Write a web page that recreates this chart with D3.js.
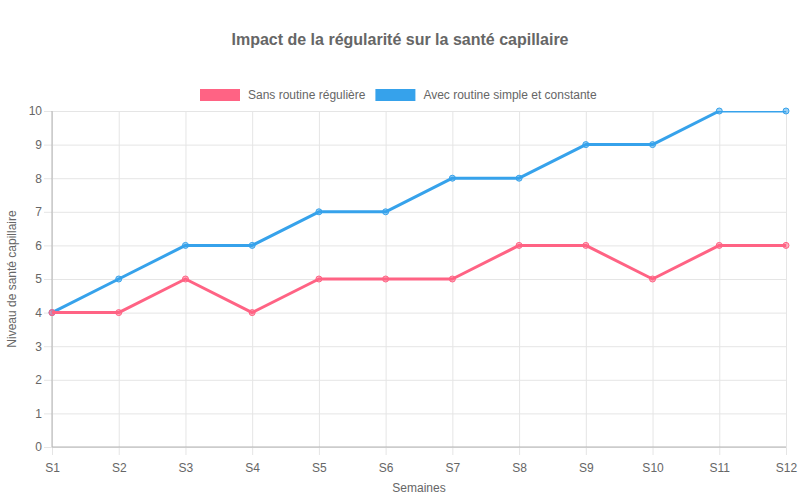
<!DOCTYPE html>
<html>
<head>
<meta charset="utf-8">
<script src="https://cdn.jsdelivr.net/npm/d3@7"></script>
<style>
  body { margin: 0; background: #fff; }
  svg text { font-family: "Liberation Sans", Arial, Helvetica, sans-serif; fill: #666; }
</style>
</head>
<body>
<svg class="chart" width="800" height="500"></svg>
<script>
var weeks = ["S1", "S2", "S3", "S4", "S5", "S6", "S7", "S8", "S9", "S10", "S11", "S12"];
var sansRoutine = [4, 4, 5, 4, 5, 5, 5, 6, 6, 5, 6, 6];
var avecRoutine = [4, 5, 6, 6, 7, 7, 8, 8, 9, 9, 10, 10];
var yTicks = [0, 1, 2, 3, 4, 5, 6, 7, 8, 9, 10];

var series = [
  {name: "Sans routine régulière", values: sansRoutine, color: "#ff6384", fill: "rgba(255,99,132,0.5)"},
  {name: "Avec routine simple et constante", values: avecRoutine, color: "#36a2eb", fill: "rgba(54,162,235,0.5)"}
];

var svg = d3.select(".chart"),
    margin = {top: 111, right: 14, bottom: 53, left: 52},
    width = +svg.attr("width") - margin.left - margin.right,
    height = +svg.attr("height") - margin.top - margin.bottom,
    g = svg.append("g").attr("transform", "translate(" + margin.left + "," + margin.top + ")");

var x = d3.scalePoint().domain(weeks).range([0, width]);
var y = d3.scaleLinear().domain([0, 10]).range([height, 0]);

// grid + ticks
g.append("g")
    .attr("transform", "translate(0," + height + ")")
    .call(d3.axisBottom(x).tickSize(8).tickPadding(6).tickSizeOuter(0))
    .call(function(a) {
      a.select(".domain").remove();
      a.selectAll(".tick line").attr("stroke", "#e5e5e5").attr("y1", -height).attr("y2", 8);
      a.selectAll(".tick text").attr("font-size", 12).attr("dy", "0.9em").attr("fill", "#666");
    });

g.append("g")
    .call(d3.axisLeft(y).tickValues(yTicks).tickSize(8).tickPadding(2).tickSizeOuter(0))
    .call(function(a) {
      a.select(".domain").remove();
      a.selectAll(".tick line").attr("stroke", "#e5e5e5").attr("x1", -8).attr("x2", width);
      a.selectAll(".tick text").attr("font-size", 12).attr("x", -10).attr("fill", "#666");
    });

// axis lines
g.append("line").attr("x1", 0).attr("x2", width).attr("y1", height).attr("y2", height)
    .attr("stroke", "#b3b3b3");
g.append("line").attr("x1", 0).attr("x2", 0).attr("y1", 0).attr("y2", height)
    .attr("stroke", "#b3b3b3");

// clip like the chart area
svg.append("defs").append("clipPath").attr("id", "area")
  .append("rect").attr("x", -4).attr("y", 0).attr("width", width + 8).attr("height", height + 4);

var line = d3.line()
    .x(function(d, i) { return x(weeks[i]); })
    .y(function(d) { return y(d); });

var plot = g.append("g");

// first series ends up on top, so draw in reverse
series.slice().reverse().forEach(function(s) {
  plot.append("path")
      .attr("clip-path", "url(#area)")
      .attr("d", line(s.values))
      .attr("fill", "none")
      .attr("stroke", s.color)
      .attr("stroke-width", 3)
      .attr("stroke-linejoin", "round");
  plot.selectAll(null)
    .data(s.values)
    .enter().append("circle")
      .attr("cx", function(d, i) { return x(weeks[i]); })
      .attr("cy", function(d) { return y(d); })
      .attr("r", 3)
      .attr("fill", s.fill)
      .attr("stroke", s.color)
      .attr("stroke-width", 1);
});

// title
svg.append("text")
    .attr("x", 400).attr("y", 45)
    .attr("text-anchor", "middle")
    .attr("font-size", 16).attr("font-weight", "bold")
    .text("Impact de la régularité sur la santé capillaire");

// legend
var legend = svg.append("g").attr("font-size", 12);
var lx = 200;
series.forEach(function(s) {
  var item = legend.append("g").attr("transform", "translate(" + lx + ",89)");
  item.append("rect").attr("width", 40).attr("height", 12).attr("fill", s.color);
  var t = item.append("text").attr("x", 48).attr("y", 6).attr("dy", "0.35em").text(s.name);
  lx += 48 + t.node().getComputedTextLength() + 10;
});

// axis titles
svg.append("text")
    .attr("x", margin.left + width / 2).attr("y", 492)
    .attr("text-anchor", "middle").attr("font-size", 12)
    .text("Semaines");

svg.append("text")
    .attr("transform", "translate(16," + (margin.top + height / 2) + ") rotate(-90)")
    .attr("text-anchor", "middle").attr("font-size", 12)
    .text("Niveau de santé capillaire");
</script>
</body>
</html>
